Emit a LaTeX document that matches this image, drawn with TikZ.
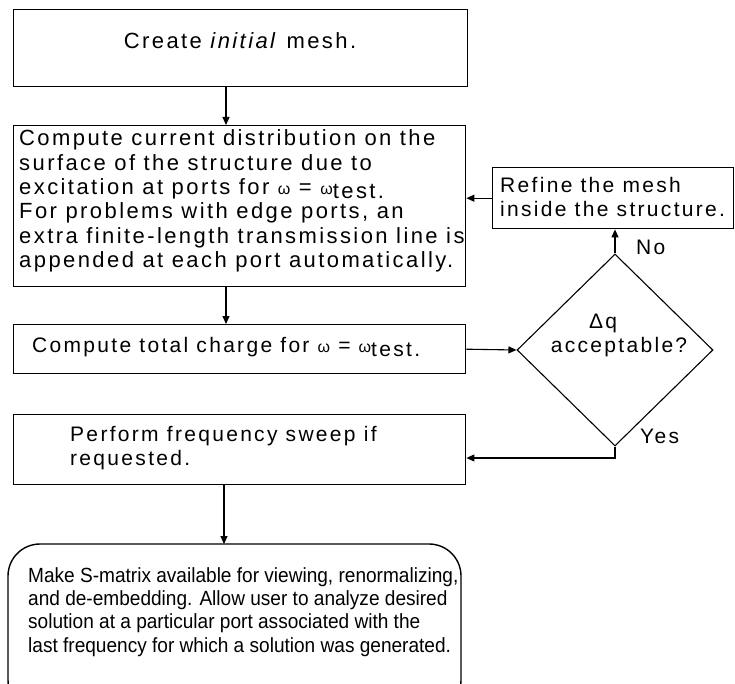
\documentclass[tikz,border=0pt]{standalone}
\usepackage{fontspec}
\setmainfont{Liberation Sans}
\newfontfamily\widefont{Liberation Sans}[LetterSpace=11]
\newfontfamily\narrowfont{Liberation Sans}[FakeStretch=0.93]
\usetikzlibrary{arrows.meta,shapes.geometric}
\tikzset{
  box/.style={draw, line width=1.4pt, inner sep=0pt, anchor=north west},
  txt/.style={inner sep=0pt, anchor=west, align=left, font=\widefont\fontsize{21}{24.4}\selectfont},
  bigtxt/.style={txt, font=\widefont\fontsize{22}{24.4}\selectfont},
  plaintxt/.style={inner sep=0pt, anchor=west, align=left, font=\narrowfont\fontsize{20.5}{23.3}\selectfont},
  arr/.style={line width=1.1pt, -{Triangle[length=8pt,width=7pt]}},
  lbl/.style={inner sep=0pt, font=\widefont\fontsize{21}{22}\selectfont}
}
\newcommand{\omg}{{\fontsize{16}{16}\selectfont ω}}
\newcommand{\wtest}{\omg\raisebox{-4pt}{test.}}
\begin{document}
\begin{tikzpicture}[x=1pt,y=-1pt]
\useasboundingbox (0,0) rectangle (735,684);

% process boxes
\node[box, minimum width=454pt, minimum height=77pt] (b1) at (13,9) {};
\node[bigtxt, anchor=center] (t1) at (240,41) {Create \textit{initial} mesh.};

\node[box, minimum width=452pt, minimum height=161pt] (b2) at (13,125) {};
\node[bigtxt] (t2) at (19,201) {Compute current distribution on the\\
surface of the structure due to\\
excitation at ports for \omg{} = \wtest\\
For problems with edge ports, an\\
extra finite-length transmission line is\\
appended at each port automatically.};

\node[box, minimum width=452pt, minimum height=49pt] (b3) at (13,324) {};
\node[txt] (t3) at (32,347) {Compute total charge for \omg{} = \wtest};

\node[box, minimum width=452pt, minimum height=70pt] (b4) at (13,414) {};
\node[txt] (t4) at (70,448) {Perform frequency sweep if\\[-1pt]requested.};

\node[box, minimum width=241pt, minimum height=61pt] (rf) at (492,167) {};
\node[txt] (trf) at (500,197) {Refine the mesh\\inside the structure.};

% decision
\node[draw, line width=1.1pt, shape=diamond, inner sep=0pt, minimum width=196pt, minimum height=192pt] (dq) at (615,350) {};
\node[lbl] (d1) at (603,323) {Δq};
\node[lbl] (d2) at (619,347) {acceptable?};
\node[lbl, anchor=west] (no) at (636,247) {No};
\node[lbl, anchor=west] (yes) at (640,436) {Yes};

% final rounded box
\draw[line width=1.4pt, rounded corners=32pt] (8,544) rectangle (461,712);
\node[plaintxt] (t5) at (28,612) {Make S-matrix available for viewing, renormalizing,\\
and de-embedding. Allow user to analyze desired\\
solution at a particular port associated with the\\
last frequency for which a solution was generated.};
\coordinate (endtop) at (224,544);

% connectors
\coordinate (xa) at (226,0);
\coordinate (xb) at (224,0);
\coordinate (yy) at (0,458);
\draw[arr] (b1.south -| xa) -- (b2.north -| xa);
\draw[arr] (b2.south -| xa) -- (b3.north -| xa);
\draw[arr] (b3.east) -- (dq.west);
\draw[arr] (dq.north) -- (dq.north |- rf.south);
\draw[arr] (rf.west) -- (rf.west -| b2.east);
\draw[arr] (dq.south) |- (b4.east |- yy);
\draw[arr] (b4.south -| xb) -- (endtop);
\end{tikzpicture}
\end{document}
